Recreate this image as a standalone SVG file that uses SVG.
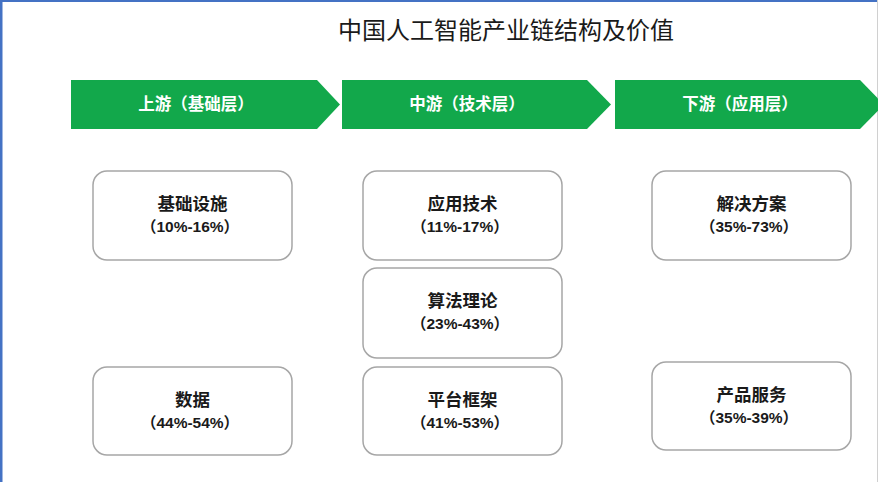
<svg xmlns="http://www.w3.org/2000/svg" width="878" height="482" viewBox="0 0 878 482">
<style>
.hdr{fill:#12a84b}
.hdrt{font-family:"Liberation Sans","Noto Sans CJK SC",sans-serif;font-size:16.5px;font-weight:bold;fill:#ffffff;text-anchor:middle}
.box{fill:#ffffff;stroke:#a6a6a6;stroke-width:1.5}
.bt{font-family:"Liberation Sans","Noto Sans CJK SC",sans-serif;font-size:17.5px;font-weight:bold;fill:#1a1a1a;text-anchor:middle}
.bp{font-family:"Liberation Sans","Noto Sans CJK SC",sans-serif;font-size:15.5px;font-weight:bold;fill:#1a1a1a;text-anchor:middle}
.title{font-family:"Noto Sans CJK SC",sans-serif;font-size:24px;fill:#1a1a1a;text-anchor:middle}
</style>
<rect x="0" y="0" width="878" height="482" fill="#ffffff"/>
<line x1="0" y1="1" x2="878" y2="1" stroke="#4472c4" stroke-width="2"/>
<line x1="1" y1="0" x2="1" y2="482" stroke="#4472c4" stroke-width="3"/>
<line x1="877.5" y1="0" x2="877.5" y2="482" stroke="#d0d0d0" stroke-width="1"/>
<text class="title" x="506" y="39">中国人工智能产业链结构及价值</text>
<g id="stage-upstream">
<polygon class="hdr" points="71,80 317,80 340,104.5 317,129 71,129"/>
<text class="hdrt" x="196" y="110">上游（基础层）</text>
</g>
<g id="stage-midstream">
<polygon class="hdr" points="342,80 587,80 611,104.5 587,129 342,129"/>
<text class="hdrt" x="467" y="110">中游（技术层）</text>
</g>
<g id="stage-downstream">
<polygon class="hdr" points="615,80 860,80 884,104.5 860,129 615,129"/>
<text class="hdrt" x="740" y="110">下游（应用层）</text>
</g>
<g id="node-infra">
<rect class="box" x="93" y="171" width="199" height="89" rx="14"/>
<text class="bt" x="192.5" y="210">基础设施</text>
<text class="bp" x="190" y="232">（10%-16%）</text>
</g>
<g id="node-data">
<rect class="box" x="93" y="367" width="199" height="88" rx="14"/>
<text class="bt" x="192.5" y="406">数据</text>
<text class="bp" x="190" y="428">（44%-54%）</text>
</g>
<g id="node-apptech">
<rect class="box" x="363" y="171" width="199" height="89" rx="14"/>
<text class="bt" x="462.5" y="210">应用技术</text>
<text class="bp" x="460" y="232">（11%-17%）</text>
</g>
<g id="node-algo">
<rect class="box" x="363" y="268" width="199" height="90" rx="14"/>
<text class="bt" x="462.5" y="307">算法理论</text>
<text class="bp" x="460" y="329">（23%-43%）</text>
</g>
<g id="node-platform">
<rect class="box" x="363" y="367" width="199" height="88" rx="14"/>
<text class="bt" x="462.5" y="406">平台框架</text>
<text class="bp" x="460" y="428">（41%-53%）</text>
</g>
<g id="node-solution">
<rect class="box" x="652" y="171" width="199" height="89" rx="14"/>
<text class="bt" x="751.5" y="210">解决方案</text>
<text class="bp" x="749" y="232">（35%-73%）</text>
</g>
<g id="node-product">
<rect class="box" x="652" y="362" width="199" height="88" rx="14"/>
<text class="bt" x="751.5" y="401">产品服务</text>
<text class="bp" x="749" y="423">（35%-39%）</text>
</g>
<g id="connectors"></g>
</svg>
